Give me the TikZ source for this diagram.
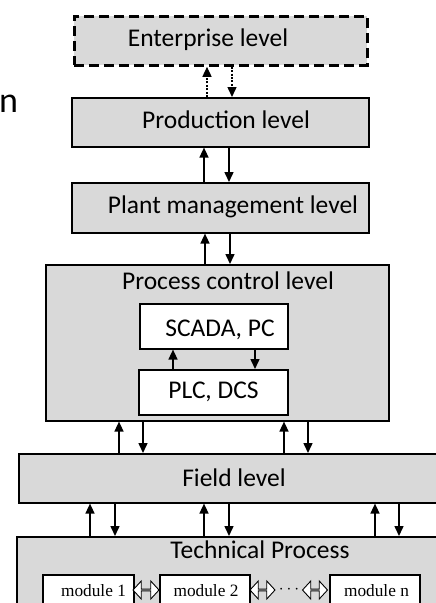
\documentclass[tikz,border=0pt]{standalone}
\usepackage{fontspec}
\setmainfont{Carlito}
\newfontfamily\timesf{Liberation Serif}
\usetikzlibrary{arrows.meta,shapes.arrows}
\definecolor{boxgray}{HTML}{D9D9D9}
\begin{document}
\begin{tikzpicture}[x=1pt,y=-1pt,
  box/.style={draw=black, line width=1.6pt, fill=boxgray, inner sep=0pt, anchor=north west},
  wbox/.style={box, fill=white},
  lbl/.style={anchor=base, inner sep=0pt, font=\fontsize{25.5}{30}\selectfont},
  mlbl/.style={anchor=base, inner sep=0pt, font=\timesf\fontsize{17.3}{20}\selectfont},
  arr/.style={line width=1.5pt, -{Triangle[length=10pt,width=9pt]}},
  darr/.style={arr, dash pattern=on 2pt off 1.4pt},
  hollow/.style={shape=double arrow, draw=black, fill=white, line width=0.9pt, inner sep=0pt,
    minimum height=25pt, minimum width=18pt, double arrow head extend=4.5pt, double arrow tip angle=95}
]
\useasboundingbox (0,0) rectangle (436,603);
\fill[white] (0,0) rectangle (436,603);

% text at the left edge
\node[anchor=base west, inner sep=0pt, font=\fontsize{36}{40}\selectfont] (cut) at (-1,112) {n};

% boxes
\node[box, line width=2.8pt, dash pattern=on 10pt off 5pt, minimum width=293pt, minimum height=49pt] (ent) at (73,15) {};
\node[lbl] (entt) at (208,46) {Enterprise level};
\node[box, minimum width=297pt, minimum height=49pt] (prod) at (71,97) {};
\node[lbl] (prodt) at (226,128) {Production level};
\node[box, minimum width=297pt, minimum height=50pt] (plant) at (71,182) {};
\node[lbl] (plantt) at (233,213) {Plant management level};
\node[box, minimum width=343pt, minimum height=156pt] (proc) at (45,264) {};
\node[lbl] (proct) at (228,289) {Process control level};
\node[wbox, minimum width=148pt, minimum height=45pt] (scada) at (139,303) {};
\node[lbl] (scadat) at (220,336) {SCADA, PC};
\node[wbox, minimum width=149pt, minimum height=45pt] (plc) at (138,369) {};
\node[lbl] (plct) at (213.5,398) {PLC, DCS};
\node[box, minimum width=425pt, minimum height=49pt] (field) at (18,453) {};
\node[lbl] (fieldt) at (234,486) {Field level};
\node[box, minimum width=428pt, minimum height=80pt] (tech) at (16,536) {};
\node[lbl] (techt) at (260,558) {Technical Process};
\node[wbox, minimum width=91pt, minimum height=40pt] (m1) at (42,574) {};
\node[mlbl] (m1t) at (93.5,596) {module 1};
\node[wbox, minimum width=90pt, minimum height=40pt] (m2) at (159,574) {};
\node[mlbl] (m2t) at (206,596) {module 2};
\node[wbox, minimum width=90pt, minimum height=40pt] (mn) at (329,574) {};
\node[mlbl] (mnt) at (376.5,596) {module n};

% hollow double arrows and dots between modules
\node[hollow, minimum height=26pt] (h1) at (146,590) {};
\node[hollow] (h2) at (262.5,590) {};
\node[inner sep=0pt, font=\timesf\fontsize{17.3}{20}\selectfont] (dots) at (289,590) {$\cdots$};
\node[hollow] (h3) at (315,590) {};

% connectors
\draw[darr] (prod.north -| 207,0) -- (ent.south -| 207,0);
\draw[darr] (ent.south -| 232,0) -- (prod.north -| 232,0);
\draw[arr] (plant.north -| 204,0) -- (prod.south -| 204,0);
\draw[arr] (prod.south -| 229,0) -- (plant.north -| 229,0);
\draw[arr] (proc.north -| 205,0) -- (plant.south -| 205,0);
\draw[arr] (plant.south -| 230,0) -- (proc.north -| 230,0);
\draw[arr] (plc.north -| 173,0) -- (scada.south -| 173,0);
\draw[arr] (scada.south -| 255,0) -- (plc.north -| 255,0);
\draw[arr] (field.north -| 119,0) -- (proc.south -| 119,0);
\draw[arr] (proc.south -| 143,0) -- (field.north -| 143,0);
\draw[arr] (field.north -| 284,0) -- (proc.south -| 284,0);
\draw[arr] (proc.south -| 308,0) -- (field.north -| 308,0);
\draw[arr] (tech.north -| 90,0) -- (field.south -| 90,0);
\draw[arr] (field.south -| 115,0) -- (tech.north -| 115,0);
\draw[arr] (tech.north -| 204,0) -- (field.south -| 204,0);
\draw[arr] (field.south -| 229,0) -- (tech.north -| 229,0);
\draw[arr] (tech.north -| 375,0) -- (field.south -| 375,0);
\draw[arr] (field.south -| 399,0) -- (tech.north -| 399,0);
\end{tikzpicture}
\end{document}
